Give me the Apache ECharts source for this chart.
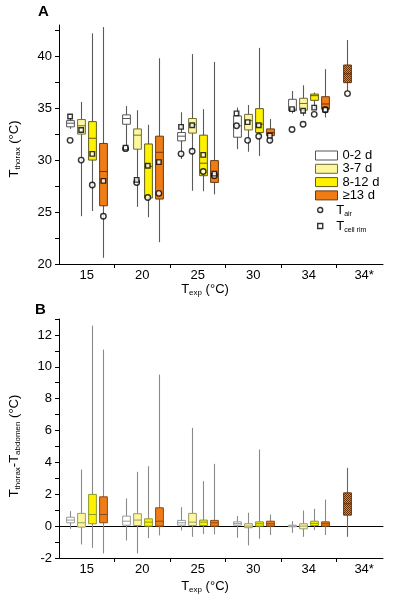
<!DOCTYPE html>
<html><head><meta charset="utf-8">
<script src="https://cdn.jsdelivr.net/npm/echarts/dist/echarts.min.js"></script>
<style>html,body{margin:0;padding:0;background:#fff}#c{width:401px;height:600px}</style>
</head><body><div id="c"></div><script>
const categories = ['15', '20', '25', '30', '34', '34*'];
const dayClasses = ['0-2 d', '3-7 d', '8-12 d', '≥13 d'];

// Panel A: T_thorax boxes [min, q1, median, q3, max] for categories 15..34
const A_d02 = [[33.0,33.2,33.55,33.8,34.1],[31.2,33.45,34.0,34.35,35.2],[30.1,31.85,32.3,32.65,34.6],[31.05,32.2,33.3,34.25,35.05],[34.5,34.75,34.9,35.85,36.65]];
const A_d37 = [[24.6,32.5,33.3,33.9,35.6],[25.5,31.05,32.4,33.0,34.8],[27.05,32.6,33.4,34.0,40.2],[30.8,32.9,33.8,34.4,35.3],[34.25,34.8,35.45,35.95,37.2]];
const A_d812 = [[25.1,30.0,32.1,33.7,42.2],[24.5,26.35,29.4,31.55,33.4],[27.0,28.5,29.7,32.4,34.9],[30.4,32.65,33.45,34.95,40.8],[34.9,35.75,36.2,36.35,36.5]];
const A_d13 = [[20.6,25.6,28.9,31.6,42.8],[22.1,26.25,30.75,32.3,39.8],[26.7,27.85,28.7,29.95,39.45],[31.6,32.35,32.65,33.0,33.95],[34.1,34.9,35.4,36.1,38.75]];
const A_star = [36.65,37.45,38.3,39.15,41.55];

// Panel A: T_air and T_cell rim per category
const A_tair_d02 = [31.9,31.1,30.6,33.3,32.95];
const A_tair_d37 = [30.0,27.85,30.85,31.9,33.45];
const A_tair_d812 = [27.6,26.4,28.9,32.3,34.4];
const A_tair_d13 = [24.6,26.8,28.5,31.9,34.85];
const A_tair_star = 36.4;
const A_tcell_d02 = [34.2,31.2,33.2,34.5,34.9];
const A_tcell_d37 = [32.9,28.1,33.35,33.65,34.75];
const A_tcell_d812 = [30.6,29.45,30.5,33.35,35.05];
const A_tcell_d13 = [28.0,29.8,28.7,32.35,34.85];

// Panel B: T_thorax - T_abdomen boxes
const B_d02 = [[-0.17,0.21,0.38,0.56,0.94],[-0.9,0.06,0.31,0.63,1.74],[-0.27,0.06,0.21,0.36,1.19],[-0.73,0.06,0.17,0.27,0.63],[-0.42,-0.04,0.0,0.06,0.31]];
const B_d37 = [[-1.15,-0.06,0.21,0.8,3.55],[-1.71,0.04,0.38,0.78,3.41],[-0.67,0.04,0.25,0.8,6.17],[-1.21,-0.1,0.0,0.15,0.84],[-0.67,-0.17,0.0,0.15,0.98]];
const B_d812 = [[-1.36,0.15,0.73,1.99,12.58],[-0.75,0.0,0.25,0.46,3.76],[-0.5,0.04,0.25,0.38,2.82],[-0.79,0.0,0.15,0.27,4.81],[-0.25,0.04,0.17,0.31,1.09]];
const B_d13 = [[-1.71,0.21,0.73,1.84,11.08],[-0.58,0.0,0.31,1.15,9.51],[-0.52,0.0,0.21,0.36,3.91],[-0.56,0.0,0.15,0.31,0.73],[-0.56,0.0,0.15,0.27,1.67]];
const B_star = [-0.67,0.69,1.4,2.09,3.66];

// Axis ticks / labels
const yTicksA = [20,22.5,25,27.5,30,32.5,35,37.5,40,42.5];
const yLabelsA = [20,25,30,35,40];
const yTicksB = [-2,-1,0,1,2,3,4,5,6,7,8,9,10,11,12,13];
const yLabelsB = [-2,0,2,4,6,8,10,12];

// ---- styles ----
const FONT = 'Liberation Sans, Arial, sans-serif';
const SLOT = [-0.3, -0.1, 0.1, 0.3];
const BOX_FRAC = 0.14;
const FILLS = ['#ffffff', '#fdf79c', '#fff200', '#f07c16'];
const STROKE_A = ['#555555', '#6f6b3c', '#5f5b1e', '#6a3a10'];
const STROKE_B = ['#9a9a9a', '#9c9a6a', '#8c9a2a', '#8a4a14'];
const WHISK_A = '#5a5a5a', WHISK_B = '#8a8a8a';

function makePattern() {
  const c = document.createElement('canvas');
  c.width = 2; c.height = 2;
  const g = c.getContext('2d');
  g.fillStyle = '#f08020'; g.fillRect(0, 0, 2, 2);
  g.fillStyle = '#6b3000'; g.fillRect(0, 0, 1, 1); g.fillRect(1, 1, 1, 1);
  return { image: c, repeat: 'repeat' };
}

function makeRender(fill, stroke, whisk) {
  return function (params, api) {
    const x = api.value(0);
    const pLo = api.coord([x, api.value(1)]);
    const pQ1 = api.coord([x, api.value(2)]);
    const pMd = api.coord([x, api.value(3)]);
    const pQ3 = api.coord([x, api.value(4)]);
    const pHi = api.coord([x, api.value(5)]);
    const w = api.size([1, 0])[0] * BOX_FRAC;
    const cx = Math.round(pLo[0]) + 0.5;
    return { type: 'group', children: [
      { type: 'line', shape: { x1: cx, y1: pHi[1], x2: cx, y2: pLo[1] }, style: { stroke: whisk, lineWidth: 1.1 } },
      { type: 'rect', shape: { x: cx - w / 2, y: pQ3[1], width: w, height: pQ1[1] - pQ3[1] }, style: { fill: fill, stroke: stroke, lineWidth: 1 } },
      { type: 'line', shape: { x1: cx - w / 2, y1: pMd[1], x2: cx + w / 2, y2: pMd[1] }, style: { stroke: stroke, lineWidth: 1 } }
    ] };
  };
}

const boxA = [A_d02, A_d37, A_d812, A_d13];
const boxB = [B_d02, B_d37, B_d812, B_d13];
const tairA = [A_tair_d02, A_tair_d37, A_tair_d812, A_tair_d13];
const tcellA = [A_tcell_d02, A_tcell_d37, A_tcell_d812, A_tcell_d13];

const series = [];
[boxA, boxB].forEach(function (panel, p) {
  panel.forEach(function (arr, k) {
    series.push({
      type: 'custom', name: dayClasses[k], xAxisIndex: p === 0 ? 0 : 1, yAxisIndex: p, z: 2,
      itemStyle: { color: FILLS[k] },
      encode: { x: 0, y: [1, 2, 3, 4, 5] },
      renderItem: makeRender(FILLS[k], (p === 0 ? STROKE_A : STROKE_B)[k], p === 0 ? WHISK_A : WHISK_B),
      data: arr.map(function (d, i) { return [i + SLOT[k]].concat(d); })
    });
  });
});
const pat = makePattern();
[A_star, B_star].forEach(function (d, p) {
  series.push({
    type: 'custom', name: '34*', xAxisIndex: p === 0 ? 0 : 1, yAxisIndex: p, z: 2,
    encode: { x: 0, y: [1, 2, 3, 4, 5] },
    renderItem: makeRender(pat, '#6a3000', p === 0 ? WHISK_A : '#666'),
    data: [[categories.length - 1 + SLOT[0]].concat(d)]
  });
});

const markerStyle = { color: '#ffffff', borderColor: '#000000', borderWidth: 1.4 };
const tairData = [], tcellData = [];
tairA.forEach(function (arr, k) { arr.forEach(function (v, i) { tairData.push([i + SLOT[k], v]); }); });
tairData.push([categories.length - 1 + SLOT[0], A_tair_star]);
tcellA.forEach(function (arr, k) { arr.forEach(function (v, i) { tcellData.push([i + SLOT[k], v]); }); });
series.push({ type: 'scatter', name: 'Tair', xAxisIndex: 0, yAxisIndex: 0, z: 4, symbol: 'circle', symbolSize: 5.5, itemStyle: markerStyle, data: tairData });
series.push({ type: 'scatter', name: 'Tcell', xAxisIndex: 0, yAxisIndex: 0, z: 5, symbol: 'rect', symbolSize: 4.5, itemStyle: markerStyle, data: tcellData });

const xMin = -0.5, xMax = 5.34;
const catTicks = categories.slice(1).map(function (_, i) { return i + 0.5; });
const catPos = categories.map(function (_, i) { return i; });
function xAxisMain(grid) {
  return {
    gridIndex: grid, type: 'value', min: xMin, max: xMax, position: 'bottom',
    axisLine: { show: true, onZero: false, lineStyle: { color: '#000', width: 1 } },
    axisTick: { show: true, length: 4, customValues: catTicks, lineStyle: { color: '#000' } },
    axisLabel: { customValues: catPos, formatter: function (v) { return categories[Math.round(v)]; }, margin: 5, fontSize: 13, color: '#000', fontFamily: FONT },
    splitLine: { show: false }
  };
}
function yAxis(grid, min, max, ticks, labels) {
  return {
    gridIndex: grid, type: 'value', min: min, max: max,
    axisLine: { show: true, onZero: false, lineStyle: { color: '#000', width: 1 } },
    axisTick: { show: true, length: 4, customValues: ticks, lineStyle: { color: '#000' } },
    axisLabel: { customValues: labels, margin: 7, fontSize: 13, color: '#000', fontFamily: FONT },
    splitLine: { show: false }
  };
}

const richT = {
  m: { fontSize: 13, lineHeight: 16, fontFamily: FONT, fill: '#000', color: '#000' },
  s: { fontSize: 8, lineHeight: 9, verticalAlign: 'bottom', fontFamily: FONT, fill: '#000', color: '#000' }
};
function gText(x, y, text, rot) {
  return { type: 'text', x: x, y: y, rotation: rot || 0, style: { text: text, rich: richT, fontSize: 13, fontFamily: FONT, fill: '#000', align: 'center', verticalAlign: 'middle' } };
}

const chart = echarts.init(document.getElementById('c'), null, { renderer: 'canvas' });
chart.setOption({
  animation: false,
  backgroundColor: '#ffffff',
  grid: [
    { left: 59, right: 18, top: 25, height: 239 },
    { left: 59, right: 18, top: 319, height: 239 }
  ],
  xAxis: [
    xAxisMain(0),
    xAxisMain(1),
    { gridIndex: 1, type: 'value', min: xMin, max: xMax, position: 'top',
      axisLine: { show: true, onZero: true, lineStyle: { color: '#000', width: 1 } },
      axisTick: { show: false }, axisLabel: { show: false }, splitLine: { show: false } }
  ],
  yAxis: [
    yAxis(0, 20, 43, yTicksA, yLabelsA),
    yAxis(1, -2, 13, yTicksB, yLabelsB)
  ],
  legend: [
    { left: 315, top: 149, orient: 'vertical', itemWidth: 22, itemHeight: 9, itemGap: 0.3, padding: 0,
      selectedMode: false, icon: 'rect',
      textStyle: { fontSize: 13, lineHeight: 13, fontFamily: FONT, color: '#000' },
      data: dayClasses.map(function (n, k) { return { name: n, itemStyle: { color: FILLS[k], borderColor: STROKE_A[k], borderWidth: 1 } }; }) },
    { left: 317, top: 203.5, orient: 'vertical', itemWidth: 22, itemHeight: 5, itemGap: 2, padding: 0,
      selectedMode: false,
      formatter: function (n) { return n === 'Tair' ? '{m|T}{s|air}' : '{m|T}{s|cell rim}'; },
      textStyle: { rich: {
        m: { fontSize: 13, lineHeight: 15, fontFamily: FONT, color: '#000' },
        s: { fontSize: 7, lineHeight: 8, verticalAlign: 'bottom', fontFamily: FONT, color: '#000' } } },
      data: [
        { name: 'Tair', icon: 'circle', itemStyle: { color: '#fff', borderColor: '#000', borderWidth: 1.4 } },
        { name: 'Tcell', icon: 'path://M0 0H5V5H0Z', itemStyle: { color: '#fff', borderColor: '#000', borderWidth: 1.4 } }
      ] }
  ],
  graphic: [
    { type: 'text', left: 38, top: 4, style: { text: 'A', font: 'bold 15px ' + FONT, fill: '#000' } },
    { type: 'text', left: 35, top: 302, style: { text: 'B', font: 'bold 15px ' + FONT, fill: '#000' } },
    gText(14, 149, '{m|T}{s|thorax}{m| (°C)}', Math.PI / 2),
    gText(14, 446, '{m|T}{s|thorax}{m|-T}{s|abdomen}{m| (°C)}', Math.PI / 2),
    gText(205, 289, '{m|T}{s|exp}{m| (°C)}'),
    gText(205, 586, '{m|T}{s|exp}{m| (°C)}')
  ],
  series: series
});
</script></body></html>
